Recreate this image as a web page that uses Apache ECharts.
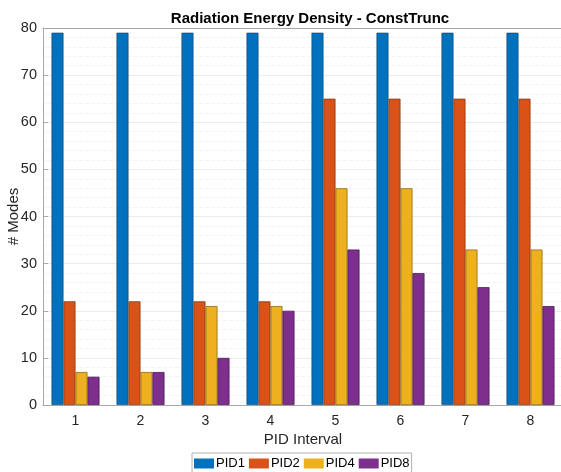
<!DOCTYPE html>
<html>
<head>
<meta charset="utf-8">
<script src="https://cdn.jsdelivr.net/npm/echarts@6/dist/echarts.min.js"></script>
<style>
  html, body { margin: 0; padding: 0; background: #fff; }
  #chart { width: 561px; height: 472px; }
</style>
</head>
<body>
<div id="chart"></div>
<script>
// PID interval categories and mode counts per PID setting
const categories = ['1', '2', '3', '4', '5', '6', '7', '8'];
const pid1 = [79, 79, 79, 79, 79, 79, 79, 79];
const pid2 = [22, 22, 22, 22, 65, 65, 65, 65];
const pid4 = [7, 7, 21, 21, 46, 46, 33, 33];
const pid8 = [6, 7, 10, 20, 33, 28, 25, 21];
const yTicks = [0, 10, 20, 30, 40, 50, 60, 70, 80];

const font = '"Liberation Sans", Arial, Helvetica, sans-serif';
const textColor = '#262626';
const axisGray = '#a8a8a8';

function bar(name, data, color, edge) {
  return {
    name: name,
    type: 'bar',
    data: data,
    barWidth: 12,
    barGap: '0%',
    itemStyle: { color: color, borderColor: edge, borderWidth: 0.8 }
  };
}

const chart = echarts.init(document.getElementById('chart'), null, { renderer: 'canvas' });
chart.setOption({
  animation: false,
  backgroundColor: '#ffffff',
  title: {
    text: 'Radiation Energy Density - ConstTrunc',
    left: 305,
    textAlign: 'center',
    top: 6,
    textStyle: { fontFamily: font, fontSize: 15, fontWeight: 'bold', color: '#000' }
  },
  legend: {
    left: 192,
    top: 453,
    itemWidth: 20,
    itemHeight: 10,
    itemGap: 4,
    padding: [4, 2],
    borderColor: '#b0b0b0',
    borderWidth: 1,
    borderRadius: 0,
    icon: 'rect',
    itemStyle: { borderWidth: 0 },
    textStyle: { fontFamily: font, fontSize: 13, color: '#000', padding: [0, 0, 0, -3] },
    data: ['PID1', 'PID2', 'PID4', 'PID8']
  },
  grid: { left: 43, top: 28, width: 520, height: 377, containLabel: false, outerBoundsMode: 'none' },
  xAxis: [
    {
      type: 'category',
      data: categories,
      position: 'bottom',
      name: 'PID Interval',
      nameLocation: 'middle',
      nameGap: 27,
      nameMoveOverlap: false,
      nameTextStyle: { fontFamily: font, fontSize: 15, color: textColor },
      axisLine: { lineStyle: { color: axisGray, width: 1 } },
      axisTick: { inside: true, alignWithLabel: true, length: 5, lineStyle: { color: axisGray } },
      axisLabel: { fontFamily: font, fontSize: 14, color: textColor, margin: 9 },
      splitLine: { show: false }
    },
    {
      type: 'category',
      data: categories,
      position: 'top',
      axisLine: { lineStyle: { color: axisGray, width: 1 } },
      axisTick: { inside: true, alignWithLabel: true, length: 5, lineStyle: { color: axisGray } },
      axisLabel: { show: false },
      splitLine: { show: false }
    }
  ],
  yAxis: {
    type: 'value',
    min: yTicks[0],
    max: yTicks[yTicks.length - 1],
    interval: 10,
    name: '# Modes',
    nameLocation: 'middle',
    nameGap: 22,
    nameMoveOverlap: false,
    nameTextStyle: { fontFamily: font, fontSize: 15, color: textColor },
    axisLine: { show: true, lineStyle: { color: axisGray, width: 1 } },
    axisTick: { show: true, inside: true, length: 5, lineStyle: { color: axisGray } },
    axisLabel: { fontFamily: font, fontSize: 14.5, color: textColor, margin: 6 },
    splitLine: { show: true, lineStyle: { color: '#ececec', width: 1 } },
    minorTick: { show: false, splitNumber: 5 },
    minorSplitLine: { show: true, lineStyle: { color: '#f3f3f3', width: 1, type: 'dashed' } }
  },
  series: [
    bar('PID1', pid1, '#0072BD', '#1a4f78'),
    bar('PID2', pid2, '#D95319', '#8a3a14'),
    bar('PID4', pid4, '#EDB120', '#8f6a14'),
    bar('PID8', pid8, '#7E2F8E', '#4b1c55')
  ]
});
</script>
</body>
</html>
